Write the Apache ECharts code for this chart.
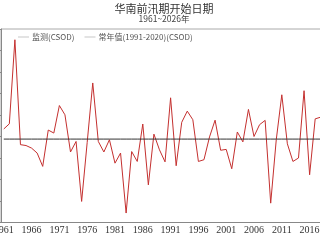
<!DOCTYPE html>
<html><head><meta charset="utf-8">
<script src="https://cdn.jsdelivr.net/npm/echarts@6/dist/echarts.min.js"></script>
<style>html,body{margin:0;padding:0;width:320px;height:240px;overflow:hidden;background:#fff}#c{width:400px;height:240px}</style>
</head><body><div id="c"></div>
<script>
const titleText = '华南前汛期开始日期';
const subText = '1961~2026年';
const years = [];
for (let y = 1961; y <= 2026; y++) years.push(String(y));
const observed = [103.5,105.9,145.0,96.2,95.8,94.6,92.3,86.1,103.0,101.6,
  114.4,110.1,92.8,97.7,69.8,97.3,124.9,97.7,92.8,98.5,
  87.6,92.3,64.4,93.0,88.4,105.8,77.5,101.1,93.8,88.2,
  118.0,86.4,106.6,111.8,107.8,88.4,89.2,99.8,107.6,93.6,
  94.0,85.0,102.1,97.5,112.6,100.0,105.5,107.5,69.0,98.5,
  119.4,96.6,88.4,90.0,121.3,82.2,108.2,109.0,
  null,null,null,null,null,null,null,null];
const normalValue = 98.8;
const normals = years.map(() => normalValue);
const seriesNames = ['监测(CSOD)', '常年值(1991-2020)(CSOD)'];

const chart = echarts.init(document.getElementById('c'), null, {renderer: 'canvas'});
chart.setOption({
  animation: false,
  backgroundColor: '#fff',
  title: {
    text: titleText, subtext: subText, left: 159, top: -2, textAlign: 'center', itemGap: 1,
    textStyle: {fontSize: 11, fontWeight: 'normal', color: '#333', fontFamily: 'Noto Sans CJK SC'},
    subtextStyle: {fontSize: 8.5, color: '#444', fontFamily: 'Noto Sans CJK SC'}
  },
  legend: {
    left: 13, top: 28, itemWidth: 11, itemHeight: 6, itemGap: 10,
    icon: 'path://M0,0 L10,0 L10,0.6 L0,0.6 Z',
    itemStyle: {color: '#aaa'},
    lineStyle: {color: '#aaa', width: 1},
    textStyle: {fontSize: 8, color: '#555', fontFamily: 'Noto Sans CJK SC', padding: [0,0,0,-2]},
    data: seriesNames
  },
  grid: {left: 1, top: 29, width: 367, height: 193.5, containLabel: false, outerBoundsMode: 'none',
    show: true, borderColor: '#aaa', borderWidth: 1},
  xAxis: {
    type: 'category', data: years, boundaryGap: true,
    axisLine: {lineStyle: {color: '#888'}},
    axisTick: {show: false},
    axisLabel: {interval: 4, fontSize: 10, color: '#333', fontFamily: 'Liberation Serif', margin: 3}
  },
  yAxis: {
    type: 'value', min: 60, max: 150, interval: 10,
    axisLine: {show: true, lineStyle: {color: '#888'}},
    axisTick: {show: true, length: 3, lineStyle: {color: '#888'}},
    axisLabel: {show: false},
    splitLine: {show: false}
  },
  series: [
    {name: seriesNames[0], type: 'line', data: observed, showSymbol: false, connectNulls: false,
     lineStyle: {color: '#c4302f', width: 1}, itemStyle: {color: '#c4302f'}},
    {name: seriesNames[1], type: 'line', data: normals, showSymbol: false,
     lineStyle: {color: '#333', width: 1}, itemStyle: {color: '#333'}}
  ]
});
</script></body></html>
